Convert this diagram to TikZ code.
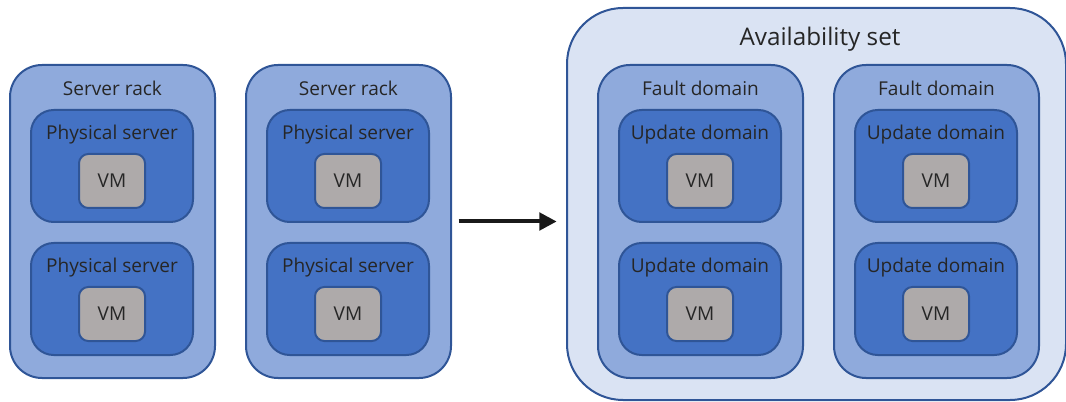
\documentclass[tikz,border=0pt]{standalone}
\usepackage{fontspec}
\setmainfont{Open Sans}
\usetikzlibrary{fit,arrows.meta}
\definecolor{edge}{HTML}{2F5597}
\definecolor{rackfill}{HTML}{8FAADC}
\definecolor{srvfill}{HTML}{4472C4}
\definecolor{vmfill}{HTML}{AEAAAA}
\definecolor{setfill}{HTML}{DAE3F3}
\definecolor{txt}{HTML}{262626}
\tikzset{
  frame/.style={draw=edge, line width=1.5pt, inner sep=0pt},
  setbox/.style={frame, fill=setfill, rounded corners=42pt},
  rackbox/.style={frame, fill=rackfill, rounded corners=24pt},
  srvbox/.style={frame, fill=srvfill, rounded corners=17pt},
  vmbox/.style={frame, fill=vmfill, rounded corners=7pt},
  lbl/.style={text=txt, font=\fontsize{14.3}{16}\selectfont, inner sep=0pt},
  biglbl/.style={text=txt, font=\fontsize{18.2}{21}\selectfont, inner sep=0pt},
  flow/.style={draw=black!90, line width=3pt, -{Triangle[length=13pt,width=13pt]}}
}
\begin{document}
\begin{tikzpicture}[x=0.75pt,y=-0.75pt]
\useasboundingbox (0,0) rectangle (1066,402);
% availability set
\node[setbox, fit={(567,8) (1066,400)}] (avset) {};
\node[biglbl] (avlbl) at (820,39) {Availability set};
% server racks
\foreach \r/\x in {1/10, 2/246} {
  \node[rackbox, fit={(\x,65) (\x+205,378)}] (rack\r) {};
  \node[lbl] (racklbl\r) at (\x+102.5,88) {Server rack};
  \foreach \s/\y in {1/110, 2/243} {
    \node[srvbox, fit={(\x+21,\y) (\x+183,\y+112)}] (srv\r\s) {};
    \node[lbl] (srvlbl\r\s) at (\x+102,\y+25) {Physical server};
    \node[vmbox, fit={(\x+69,\y+44) (\x+135,\y+98)}] (vm\r\s) {};
    \node[lbl] (vmlbl\r\s) at (vm\r\s) {VM};
  }
}
% fault domains
\foreach \f/\x in {1/598, 2/834} {
  \node[rackbox, fit={(\x,65) (\x+205,378)}] (fd\f) {};
  \node[lbl] (fdlbl\f) at (\x+102.5,88) {Fault domain};
  \foreach \u/\y in {1/110, 2/243} {
    \node[srvbox, fit={(\x+21,\y) (\x+183,\y+112)}] (ud\f\u) {};
    \node[lbl] (udlbl\f\u) at (\x+102,\y+25) {Update domain};
    \node[vmbox, fit={(\x+69,\y+44) (\x+135,\y+98)}] (uvm\f\u) {};
    \node[lbl] (uvmlbl\f\u) at (uvm\f\u) {VM};
  }
}
% arrow
\draw[flow, shorten <=5pt, shorten >=7pt] (rack2.east) -- (rack2.east -| avset.west);
\end{tikzpicture}
\end{document}
